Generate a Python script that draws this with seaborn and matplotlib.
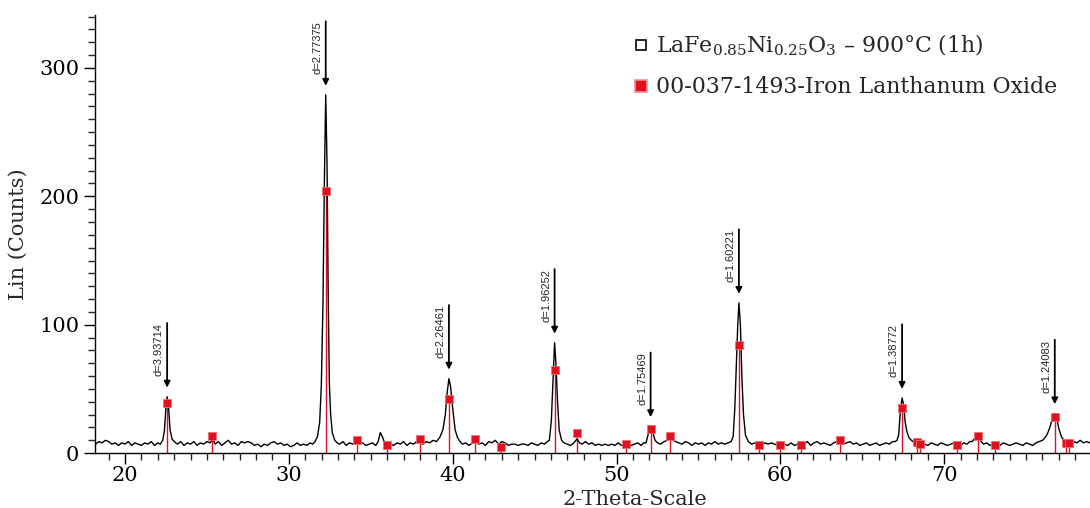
import matplotlib
matplotlib.use("Agg")
import matplotlib.pyplot as plt
from matplotlib.lines import Line2D
from matplotlib.ticker import MultipleLocator
import seaborn as sns
import pandas as pd

two_theta = [18.2, 18.4, 18.6, 18.8, 19.0, 19.2, 19.4, 19.6, 19.8, 20.0,
             20.2, 20.4, 20.6, 20.8, 21.0, 21.2, 21.4, 21.6, 21.8, 22.0,
             22.15, 22.3, 22.4, 22.5, 22.57, 22.65, 22.75, 22.87, 23.0, 23.2,
             23.4, 23.6, 23.8, 24.0, 24.2, 24.4, 24.6, 24.8, 25.0, 25.2,
             25.35, 25.5, 25.7, 25.9, 26.1, 26.3, 26.5, 26.7, 26.9, 27.1,
             27.3, 27.5, 27.7, 27.9, 28.1, 28.3, 28.5, 28.7, 28.9, 29.1,
             29.3, 29.5, 29.7, 29.9, 30.1, 30.3, 30.5, 30.7, 30.9, 31.1,
             31.3, 31.45, 31.6, 31.75, 31.88, 31.98, 32.08, 32.16, 32.25, 32.33,
             32.4, 32.47, 32.55, 32.65, 32.8, 32.95, 33.1, 33.3, 33.5, 33.7,
             33.9, 34.1, 34.3, 34.5, 34.7, 34.9, 35.1, 35.3, 35.45, 35.58,
             35.7, 35.85, 36.0, 36.2, 36.4, 36.6, 36.8, 37.0, 37.2, 37.4,
             37.6, 37.8, 38.0, 38.2, 38.4, 38.6, 38.8, 39.0, 39.2, 39.4,
             39.55, 39.67, 39.77, 39.87, 40.0, 40.15, 40.3, 40.45, 40.6, 40.8,
             41.0, 41.2, 41.4, 41.6, 41.8, 42.0, 42.2, 42.4, 42.6, 42.8,
             43.0, 43.2, 43.4, 43.6, 43.8, 44.0, 44.2, 44.4, 44.6, 44.8,
             45.0, 45.2, 45.4, 45.6, 45.78, 45.9, 46.02, 46.12, 46.22, 46.3,
             46.4, 46.5, 46.65, 46.8, 47.0, 47.2, 47.4, 47.58, 47.75, 47.9,
             48.1, 48.3, 48.5, 48.7, 48.9, 49.1, 49.3, 49.5, 49.7, 49.9,
             50.1, 50.3, 50.5, 50.7, 50.9, 51.1, 51.3, 51.5, 51.65, 51.8,
             51.92, 52.02, 52.1, 52.2, 52.35, 52.5, 52.7, 52.9, 53.1, 53.27,
             53.4, 53.6, 53.8, 54.0, 54.2, 54.4, 54.6, 54.8, 55.0, 55.2,
             55.4, 55.6, 55.8, 56.0, 56.2, 56.4, 56.6, 56.8, 57.0, 57.12,
             57.22, 57.32, 57.4, 57.47, 57.56, 57.65, 57.75, 57.87, 58.05, 58.25,
             58.45, 58.65, 58.85, 59.05, 59.25, 59.45, 59.65, 59.85, 60.05, 60.25,
             60.45, 60.65, 60.85, 61.05, 61.25, 61.45, 61.65, 61.85, 62.05, 62.25,
             62.45, 62.65, 62.85, 63.05, 63.25, 63.45, 63.65, 63.85, 64.05, 64.25,
             64.45, 64.65, 64.85, 65.05, 65.25, 65.45, 65.65, 65.85, 66.05, 66.25,
             66.45, 66.65, 66.85, 67.0, 67.12, 67.22, 67.32, 67.43, 67.52, 67.62,
             67.72, 67.85, 68.0, 68.2, 68.4, 68.6, 68.8, 69.0, 69.2, 69.4,
             69.6, 69.8, 70.0, 70.2, 70.4, 70.6, 70.8, 71.0, 71.2, 71.4,
             71.55, 71.7, 71.9, 72.05, 72.2, 72.4, 72.6, 72.8, 73.0, 73.2,
             73.4, 73.6, 73.8, 74.0, 74.2, 74.4, 74.6, 74.8, 75.0, 75.2,
             75.4, 75.6, 75.8, 76.0, 76.15, 76.3, 76.45, 76.6, 76.75, 76.87,
             77.0, 77.15, 77.3, 77.5, 77.7, 77.9, 78.1, 78.3, 78.5, 78.7,
             78.9]
counts = [7, 9, 8, 10, 9, 7, 8, 6, 8, 7,
          9, 6, 8, 7, 6, 8, 7, 9, 6, 8,
          7, 10, 17, 36, 44, 37, 18, 11, 9, 7,
          9, 6, 8, 7, 9, 6, 8, 7, 9, 8,
          11, 7, 9, 6, 8, 10, 7, 8, 6, 9,
          8, 9, 8, 6, 7, 5, 7, 6, 8, 9,
          7, 8, 6, 7, 5, 6, 8, 6, 7, 6,
          8, 7, 9, 13, 24, 52, 115, 205, 279, 225,
          125, 55, 30, 16, 10, 8, 7, 9, 6, 8,
          7, 9, 7, 8, 6, 7, 8, 6, 9, 16,
          13, 8, 9, 7, 6, 8, 7, 9, 6, 8,
          7, 9, 8, 7, 9, 8, 10, 9, 12, 18,
          30, 48, 58, 52, 35, 18, 12, 9, 7, 8,
          6, 8, 9, 7, 8, 6, 9, 8, 10, 7,
          9, 8, 6, 7, 7, 6, 7, 7, 6, 8,
          7, 6, 8, 7, 9, 10, 25, 55, 86, 70,
          40, 18, 10, 8, 7, 6, 8, 11, 8, 7,
          9, 7, 8, 6, 7, 6, 7, 6, 7, 6,
          8, 6, 7, 8, 6, 7, 8, 6, 8, 8,
          14, 20, 21, 17, 10, 8, 7, 9, 10, 14,
          11, 9, 8, 7, 9, 8, 6, 8, 7, 8,
          6, 8, 7, 9, 7, 8, 7, 8, 9, 13,
          35, 70, 100, 117, 100, 60, 30, 14, 9, 7,
          8, 7, 6, 8, 7, 8, 7, 6, 8, 7,
          6, 8, 6, 7, 8, 7, 9, 6, 8, 9,
          7, 8, 7, 6, 8, 9, 8, 7, 8, 9,
          7, 8, 6, 7, 8, 6, 7, 8, 6, 7,
          8, 7, 9, 9, 10, 14, 32, 43, 38, 24,
          17, 12, 10, 8, 9, 8, 7, 6, 8, 7,
          6, 8, 7, 6, 7, 8, 7, 6, 8, 7,
          9, 9, 12, 13, 10, 7, 8, 6, 7, 8,
          6, 8, 7, 6, 7, 8, 7, 6, 8, 7,
          6, 8, 9, 10, 12, 15, 20, 27, 31, 27,
          19, 13, 10, 8, 7, 9, 8, 10, 8, 9,
          8]

# reference card 00-037-1493 stick positions and heights
ref_theta = [22.57, 25.31, 32.25, 34.16, 36.0, 38.0, 39.77, 41.37, 42.95, 46.22,
             47.6, 50.6, 52.08, 53.27, 57.47, 58.7, 59.99, 61.27, 63.65, 67.43,
             68.35, 68.5, 70.8, 72.07, 73.1, 76.75, 77.45, 77.6]
ref_counts = [39, 13, 204, 10, 6, 11, 42, 11, 5, 65,
              16, 7, 19, 13, 84, 6, 6, 6, 10, 35,
              9, 7, 6, 13, 6, 28, 8, 8]

# labelled peaks (d-spacings)
peak_theta = [22.57, 32.25, 39.77, 46.22, 52.08, 57.47, 67.43, 76.75]
peak_counts = [44, 279, 58, 86, 21, 117, 43, 31]
peak_labels = ["d=3.93714", "d=2.77375", "d=2.26461", "d=1.96252",
               "d=1.75469", "d=1.60221", "d=1.38772", "d=1.24083"]

sns.set_style("ticks")
plt.rcParams["font.family"] = ["DejaVu Serif"]
plt.rcParams["mathtext.fontset"] = "dejavuserif"

fig = plt.figure(figsize=(10.9, 5.08), dpi=100)
ax = fig.add_axes([0.0872, 0.108, 0.9128, 0.862])

red = "#e01020"
ax.vlines(ref_theta, 0, ref_counts, color=red, lw=1.0, zorder=2)
sns.lineplot(data=pd.DataFrame({"x": two_theta, "y": counts}), x="x", y="y",
             sort=False, estimator=None, color="black", lw=1.0, ax=ax, zorder=3)
sns.scatterplot(data=pd.DataFrame({"x": ref_theta, "y": ref_counts}), x="x", y="y",
                marker="s", s=30, color=red, edgecolor="#f07070", linewidth=0.6,
                ax=ax, zorder=4)

for x, y, lab in zip(peak_theta, peak_counts, peak_labels):
    ax.annotate("", xy=(x, y), xytext=(0, 53), textcoords="offset points",
                arrowprops=dict(arrowstyle="-|>", color="black", lw=1.3,
                                mutation_scale=9, shrinkA=0, shrinkB=6.5))
    ax.annotate(lab, xy=(x, y), xytext=(-2.5, 53), textcoords="offset points",
                rotation=90, ha="right", va="top", fontsize=8,
                family=["Liberation Sans", "DejaVu Sans"])

ax.set_xlim(18.17, 78.9)
ax.set_ylim(0, 341)
ax.xaxis.set_major_locator(MultipleLocator(10))
ax.xaxis.set_minor_locator(MultipleLocator(1))
ax.yaxis.set_major_locator(MultipleLocator(100))
ax.yaxis.set_minor_locator(MultipleLocator(10))
ax.tick_params(which="major", length=8, width=1, labelsize=15, colors="black")
ax.tick_params(which="minor", length=5, width=1)
ax.tick_params(axis="x", which="major", pad=1)
sns.despine(ax=ax)
for s in ("left", "bottom"):
    ax.spines[s].set_color("black")
    ax.spines[s].set_linewidth(1)

ax.set_xlabel("2-Theta-Scale", fontsize=15, labelpad=2)
ax.xaxis.set_label_coords(0.543, -0.085)
ax.set_ylabel("Lin (Counts)", fontsize=15, labelpad=8)

handles = [Line2D([], [], ls="none", marker="s", markersize=7, markerfacecolor="white",
                  markeredgecolor="black", markeredgewidth=1.2),
           Line2D([], [], ls="none", marker="s", markersize=8, markerfacecolor=red,
                  markeredgecolor="#f09090", markeredgewidth=1.2)]
labels = [r"LaFe$_{0.85}$Ni$_{0.25}$O$_3$ – 900°C (1h)", "00-037-1493-Iron Lanthanum Oxide"]
fig.legend(handles, labels, loc="upper left", bbox_to_anchor=(0.566, 0.965), frameon=False,
           fontsize=15.8, handlelength=0.8, handletextpad=0.3, labelspacing=0.82,
           borderpad=0.2)

fig.savefig("out.png", dpi=100)
